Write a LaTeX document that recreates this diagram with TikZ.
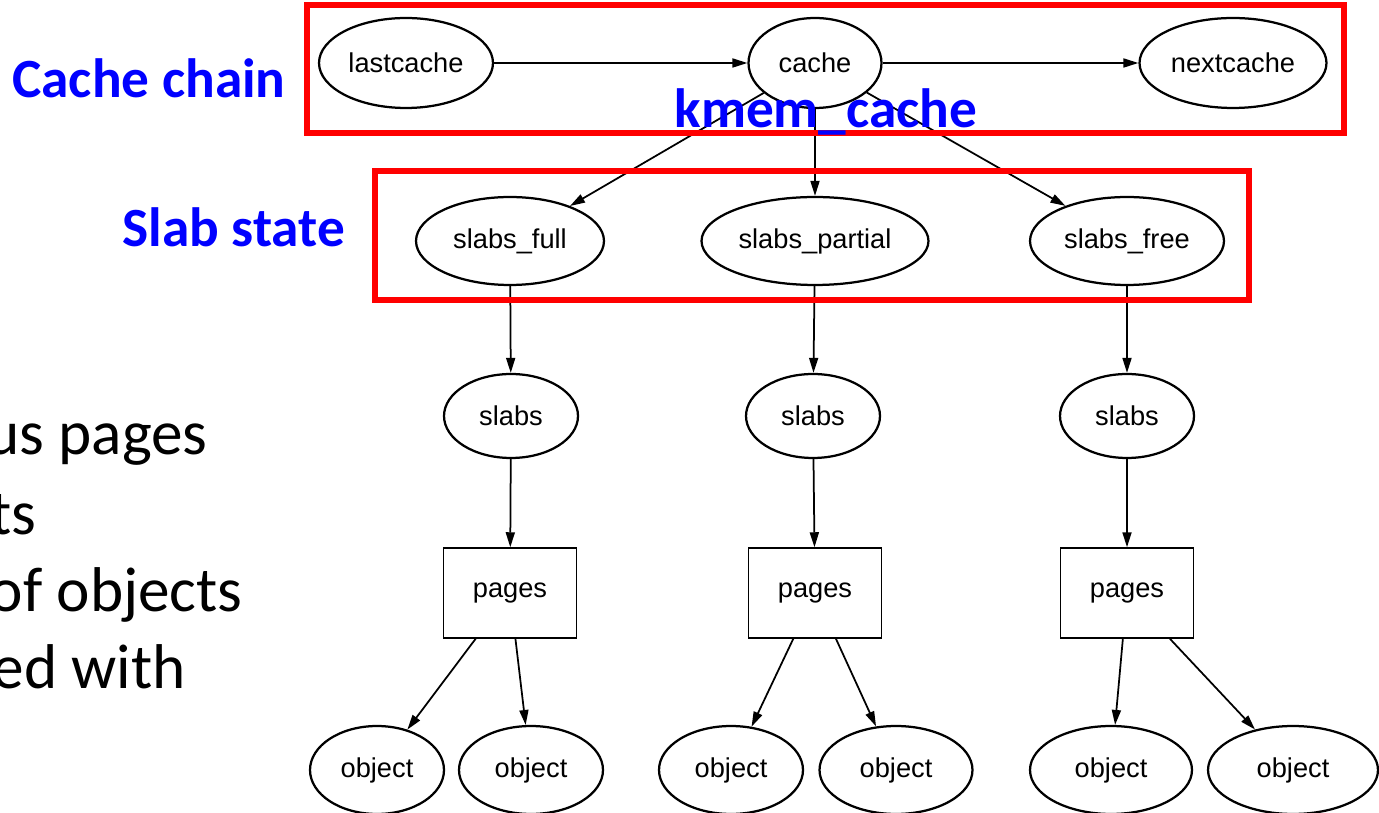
\documentclass[tikz,border=0pt]{standalone}
\usepackage{fontspec}
\setmainfont{Carlito}
\newfontfamily\gvfont{Liberation Sans}
\usetikzlibrary{shapes.geometric,arrows.meta}

\begin{document}
\begin{tikzpicture}[x=0.02cm,y=-0.02cm]
\useasboundingbox (0,0) rectangle (1379,813);
\clip (0,0) rectangle (1379,813);

% Define the node styles
\tikzstyle{oval} = [draw, ellipse, inner sep=0pt, line width=0.045cm, font=\gvfont\fontsize{15.5}{18}\selectfont]
\tikzstyle{slab} = [oval, minimum width=2.68cm, minimum height=1.68cm]
\tikzstyle{obj} = [oval, minimum height=1.76cm]
\tikzstyle{pagebox} = [draw, rectangle, line width=0.03cm, minimum width=2.66cm, minimum height=1.8cm, font=\gvfont\fontsize{15.5}{18}\selectfont]
\tikzstyle{link} = [-{Triangle[length=0.3cm,width=0.18cm]}, line width=0.035cm]
\tikzstyle{redbox} = [draw=red, line width=0.12cm]
\tikzstyle{title} = [text=blue, inner sep=0pt, font=\bfseries\fontsize{31.5}{36}\selectfont]
\tikzstyle{bullet} = [inner sep=0pt, font=\fontsize{36}{42}\selectfont]

% Define the nodes
\node[oval, minimum width=3.48cm, minimum height=1.8cm] (lastcache) at (406,63) {lastcache};
\node[oval, minimum width=2.66cm, minimum height=1.8cm] (cache) at (815,63) {cache};
\node[oval, minimum width=3.74cm, minimum height=1.8cm] (nextcache) at (1233,63) {nextcache};

\node[oval, minimum width=3.76cm, minimum height=1.76cm] (full) at (510,241) {slabs\_full};
\node[oval, minimum width=4.54cm, minimum height=1.76cm] (partial) at (815,241) {slabs\_partial};
\node[oval, minimum width=3.88cm, minimum height=1.76cm] (free) at (1127,241) {slabs\_free};

\node[slab] (slabsA) at (511,416) {slabs};
\node[slab] (slabsB) at (813,416) {slabs};
\node[slab] (slabsC) at (1127,416) {slabs};

\node[pagebox] (pagesA) at (510,593) {pages};
\node[pagebox] (pagesB) at (815,593) {pages};
\node[pagebox] (pagesC) at (1127,593) {pages};

\node[obj, minimum width=2.68cm] (objA1) at (377,770) {object};
\node[obj, minimum width=2.88cm] (objA2) at (531,770) {object};
\node[obj, minimum width=2.88cm] (objB1) at (731,770) {object};
\node[obj, minimum width=3.06cm] (objB2) at (896,770) {object};
\node[obj, minimum width=3.24cm] (objC1) at (1111,770) {object};
\node[obj, minimum width=3.4cm] (objC2) at (1293,770) {object};

% Define the transitions
\draw[link] (lastcache) -- (cache);
\draw[link] (cache) -- (nextcache);

\draw[link] (cache) -- (full);
\draw[link] (cache) -- (partial);
\draw[link] (cache) -- (free);

\draw[link] (full) -- (slabsA);
\draw[link] (partial) -- (slabsB);
\draw[link] (free) -- (slabsC);

\draw[link] (slabsA) -- (pagesA);
\draw[link] (slabsB) -- (pagesB);
\draw[link] (slabsC) -- (pagesC);

\draw[link] (pagesA) -- (objA1);
\draw[link] (pagesA) -- (objA2);
\draw[link] (pagesB) -- (objB1);
\draw[link] (pagesB) -- (objB2);
\draw[link] (pagesC) -- (objC1);
\draw[link] (pagesC) -- (objC2);

% Add the highlight boxes and labels
\draw[redbox] (307,5) rectangle (1344,133);
\draw[redbox] (375,171) rectangle (1249,300);

\node[title, anchor=base west] (chainlbl) at (12,98) {Cache chain};
\node[title, anchor=base west] (statelbl) at (122,247) {Slab state};
\node[title, anchor=base] (kmemlbl) at (826,128) {kmem\_cache};

\node[bullet, anchor=base east] (lineA) at (208,455) {us pages};
\node[bullet, anchor=base east] (lineB) at (37,535) {ts};
\node[bullet, anchor=base east] (lineC) at (243,612) {of objects};
\node[bullet, anchor=base east] (lineD) at (186,688) {ed with};

\end{tikzpicture}
\end{document}
